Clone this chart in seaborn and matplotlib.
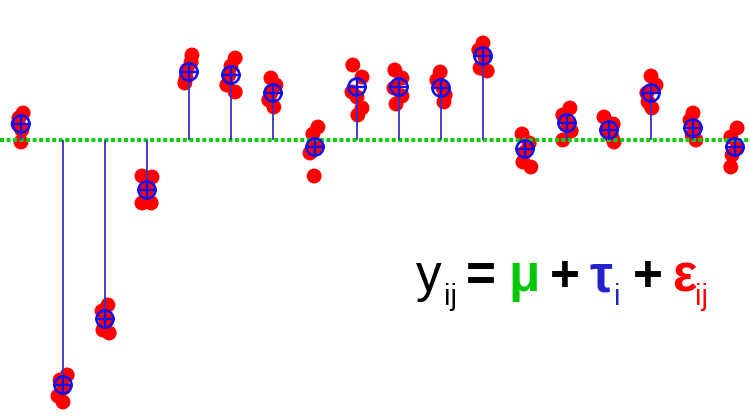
import numpy as np
import pandas as pd
import seaborn as sns
import matplotlib.pyplot as plt

sns.set_theme(style="white")
plt.rcParams['font.family'] = ['Liberation Sans', 'DejaVu Sans']
plt.rcParams['lines.scale_dashes'] = False

# overall mean and group effects (tau_i)
mu = 0.0
tau = [1.6, -24.5, -17.9, -5.0, 6.8, 6.5, 4.7, -0.7, 5.3,
       5.3, 5.2, 8.4, -0.9, 1.7, 1.0, 4.7, 1.2, -0.7]

# observations per group (y_ij)
obs = [
    [2.7, 2.2, 1.6, 1.0, -0.2],
    [-23.5, -24.0, -24.8, -25.6, -26.2],
    [-16.5, -17.1, -18.0, -19.0, -19.3],
    [-3.6, -3.7, -5.0, -6.3, -6.3],
    [8.5, 7.8, 7.0, 6.2, 5.7],
    [8.2, 7.4, 6.5, 5.5, 4.8],
    [6.2, 5.5, 4.7, 4.0, 3.3],
    [1.3, 0.6, -0.7, -1.3, -3.6],
    [7.5, 6.3, 4.8, 4.3, 3.2, 2.5],
    [7.0, 6.2, 5.2, 4.4, 3.6],
    [6.8, 6.0, 5.2, 4.5, 3.8],
    [9.7, 9.0, 8.3, 7.2, 6.9],
    [0.6, -0.3, -1.2, -2.2, -2.7],
    [3.2, 2.5, 1.6, 0.9, 0.0],
    [2.3, 1.6, 0.9, 0.3, -0.2],
    [6.4, 5.5, 4.7, 3.8, 3.2],
    [2.7, 2.0, 1.2, 0.5, 0.0],
    [1.2, 0.3, -0.8, -1.5, -2.7],
]

# small horizontal jitter of each observation (fraction of group spacing)
jitter = [
    [0.05, -0.05, -0.07, 0.02, 0.0],
    [0.1, -0.07, 0.02, -0.12, 0.0],
    [0.07, -0.07, 0.02, -0.05, 0.1],
    [-0.12, 0.12, 0.0, -0.12, 0.1],
    [0.07, 0.05, -0.05, -0.07, -0.1],
    [0.1, 0.0, -0.05, -0.1, 0.1],
    [-0.05, 0.07, -0.05, -0.1, 0.02],
    [0.07, -0.05, 0.0, -0.12, -0.02],
    [-0.1, 0.12, -0.12, 0.0, 0.12, 0.02],
    [-0.1, 0.07, -0.12, 0.07, -0.07],
    [-0.02, -0.1, 0.05, 0.1, 0.07],
    [0.0, -0.1, 0.05, -0.07, 0.1],
    [-0.07, 0.1, 0.0, -0.05, 0.14],
    [0.07, -0.1, 0.02, 0.1, -0.1],
    [-0.12, 0.1, -0.05, 0.07, 0.12],
    [0.0, 0.12, -0.1, -0.07, 0.02],
    [0.0, -0.07, 0.05, -0.02, 0.07],
    [0.05, -0.1, 0.05, -0.07, -0.1],
]

rows = []
for g, (ys, js) in enumerate(zip(obs, jitter)):
    for y, j in zip(ys, js):
        rows.append({'group': g, 'x': g + j, 'y': y})
df = pd.DataFrame(rows)
means = pd.DataFrame({'group': range(len(tau)), 'mean': np.array(tau) + mu})

fig = plt.figure(figsize=(7.5, 4.19), dpi=100)
ax = fig.add_axes([0, 0, 1, 1])

sns.scatterplot(data=df, x='x', y='y', color='#ff0000', s=115,
                edgecolor='none', linewidth=0, ax=ax, zorder=2)
ax.axhline(mu, color='#11cc11', lw=2.9, ls=(0, (2.9, 1.8)), zorder=3)
ax.vlines(means['group'], mu, means['mean'], color='#3333cc', lw=1.3, zorder=4)
sns.scatterplot(data=means, x='group', y='mean', marker='o', s=150,
                facecolor='none', edgecolor='#1111ee', linewidth=1.9, ax=ax, zorder=5)
sns.scatterplot(data=means, x='group', y='mean', marker='+', s=220,
                color='#1111ee', linewidth=1.7, ax=ax, zorder=6)

ax.set_xlim(-0.5, 17.357)
ax.set_ylim(-27.9, 14.0)
ax.axis('off')

# model equation
base = 128
sub = 114
kw = dict(xycoords='figure pixels', va='baseline', ha='left')
ax.annotate('y', (416, base), fontsize=37, color='black', **kw)
ax.annotate('ij', (444, sub), fontsize=21, color='black', **kw)
ax.annotate('=', (466, base), fontsize=37, color='black', weight='bold', **kw)
ax.annotate('μ', (508, base), fontsize=37, color='#00c800', weight='bold', **kw)
ax.annotate('+', (550, base), fontsize=37, color='black', weight='bold', **kw)
ax.annotate('τ', (589, base), fontsize=37, color='#2222cc', weight='bold', **kw)
ax.annotate('i', (614, sub), fontsize=21, color='#2222cc', **kw)
ax.annotate('+', (633, base), fontsize=37, color='black', weight='bold', **kw)
ax.annotate('ε', (672, base), fontsize=37, color='#ff0000', weight='bold', **kw)
ax.annotate('ij', (695, sub), fontsize=21, color='#ff0000', **kw)

fig.savefig('out.png', dpi=100)
